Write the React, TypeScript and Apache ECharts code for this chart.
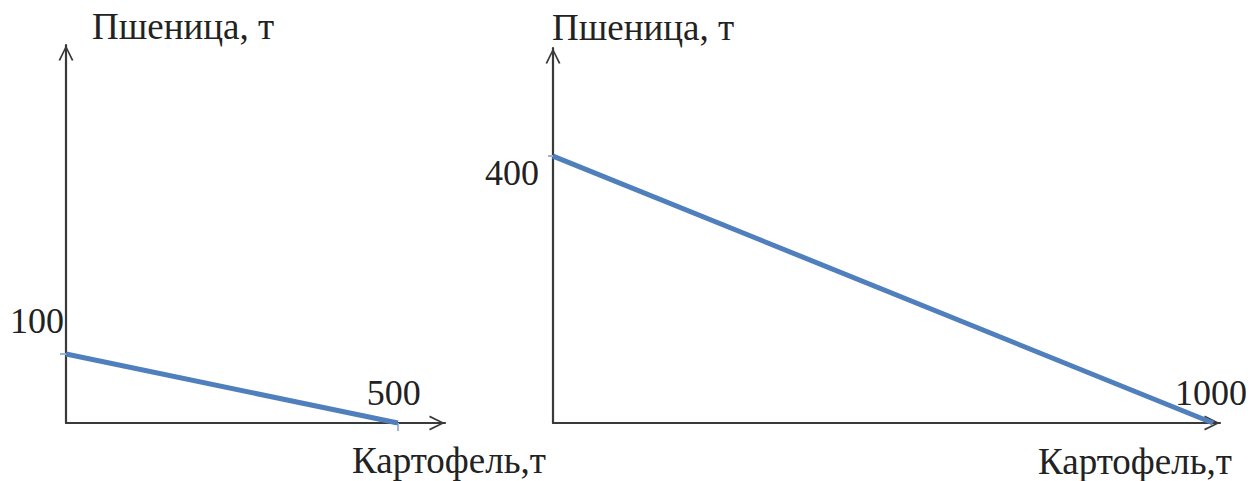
import React, { useEffect, useRef } from "react";
import * as echarts from "echarts";

// Left chart: production possibilities (potato, wheat)
const leftPoints: [number, number][] = [
  [0, 100],
  [500, 0],
];
// Right chart
const rightPoints: [number, number][] = [
  [0, 400],
  [1000, 0],
];
const yAxisTitle = "Пшеница, т";
const xAxisTitle = "Картофель,т";
const leftXMax = 571;
const leftYMax = 548;
const rightXMax = 1010.6;
const rightYMax = 562;

const FONT = "Liberation Serif, Times New Roman, serif";
const AXIS_COLOR = "#3a3a3a";
const LINE_COLOR = "#4F7FBC";
const TICK_COLOR = "#9DB6D8";

const CHEVRON =
  "path://M0,14 L7,0 L14,14 L12.4,14.6 L7,3.4 L1.6,14.6 Z";

function axisLine() {
  return {
    show: true,
    symbol: ["none", CHEVRON],
    symbolSize: [15, 16],
    symbolOffset: [0, -8],
    lineStyle: { color: AXIS_COLOR, width: 2.2 },
  };
}

export default function App() {
  const ref = useRef<HTMLDivElement>(null);
  useEffect(() => {
    document.body.style.margin = "0";
    if (!ref.current) return;
    const chart = echarts.init(ref.current, undefined, { renderer: "svg" });
    const labelStyle = {
      show: true,
      position: "inside",
      fontFamily: FONT,
      fontSize: 36,
      color: "#222",
    };
    const mk = (
      pts: [number, number][],
      offs: [number, number][]
    ) =>
      pts.map((p, i) => ({
        value: p,
        label: {
          ...labelStyle,
          offset: offs[i],
          formatter: String(i === 0 ? p[1] : p[0]),
        },
      }));
    const nameStyle = (extra: any) => ({
      fontFamily: FONT,
      fontSize: 37,
      color: "#222",
      ...extra,
    });
    const option: any = {
      animation: false,
      backgroundColor: "#ffffff",
      textStyle: { fontFamily: FONT },
      grid: [
        { left: 66, top: 45, width: 379, height: 378 },
        { left: 553, top: 48, width: 667, height: 375 },
      ],
      xAxis: [
        {
          gridIndex: 0,
          type: "value",
          min: 0,
          max: leftXMax,
          name: xAxisTitle,
          nameLocation: "end",
          nameGap: 101,
          nameTextStyle: nameStyle({
            align: "right",
            verticalAlign: "top",
            lineHeight: 30,
            padding: [22, 0, 0, 0],
          }),
          axisLine: axisLine(),
          axisTick: {
            show: true,
            customValues: [500],
            length: 8,
            lineStyle: { color: TICK_COLOR, width: 2 },
          },
          axisLabel: { show: false },
          splitLine: { show: false },
        },
        {
          gridIndex: 1,
          type: "value",
          min: 0,
          max: rightXMax,
          name: xAxisTitle,
          nameLocation: "end",
          nameGap: 12,
          nameTextStyle: nameStyle({
            align: "right",
            verticalAlign: "top",
            lineHeight: 30,
            padding: [23, 0, 0, 0],
          }),
          axisLine: axisLine(),
          axisTick: { show: false },
          axisLabel: { show: false },
          splitLine: { show: false },
        },
      ],
      yAxis: [
        {
          gridIndex: 0,
          type: "value",
          min: 0,
          max: leftYMax,
          name: yAxisTitle,
          nameLocation: "end",
          nameGap: 0,
          nameTextStyle: nameStyle({
            align: "left",
            verticalAlign: "bottom",
            padding: [0, 0, 0, 26],
          }),
          axisLine: axisLine(),
          axisTick: {
            show: true,
            customValues: [100],
            length: 6,
            lineStyle: { color: TICK_COLOR, width: 2 },
          },
          axisLabel: { show: false },
          splitLine: { show: false },
        },
        {
          gridIndex: 1,
          type: "value",
          min: 0,
          max: rightYMax,
          name: yAxisTitle,
          nameLocation: "end",
          nameGap: 2,
          nameTextStyle: nameStyle({
            align: "left",
            verticalAlign: "bottom",
            padding: [0, 0, 0, -1],
          }),
          axisLine: axisLine(),
          axisTick: {
            show: true,
            customValues: [400],
            length: 5,
            lineStyle: { color: TICK_COLOR, width: 2 },
          },
          axisLabel: { show: false },
          splitLine: { show: false },
        },
      ],
      series: [
        {
          type: "line",
          xAxisIndex: 0,
          yAxisIndex: 0,
          symbol: "circle",
          symbolSize: 0,
          showSymbol: true,
          lineStyle: { color: LINE_COLOR, width: 5 },
          itemStyle: { color: LINE_COLOR },
          data: mk(leftPoints, [
            [-29, -33],
            [-4, -30],
          ]),
        },
        {
          type: "line",
          xAxisIndex: 1,
          yAxisIndex: 1,
          symbol: "circle",
          symbolSize: 0,
          showSymbol: true,
          lineStyle: { color: LINE_COLOR, width: 5 },
          itemStyle: { color: LINE_COLOR },
          data: mk(rightPoints, [
            [-41, 17],
            [-2, -30],
          ]),
        },
      ],
    };
    chart.setOption(option);
    return () => chart.dispose();
  }, []);
  return (
    <div
      ref={ref}
      style={{ position: "absolute", left: 0, top: 0, width: 1255, height: 481 }}
    />
  );
}
